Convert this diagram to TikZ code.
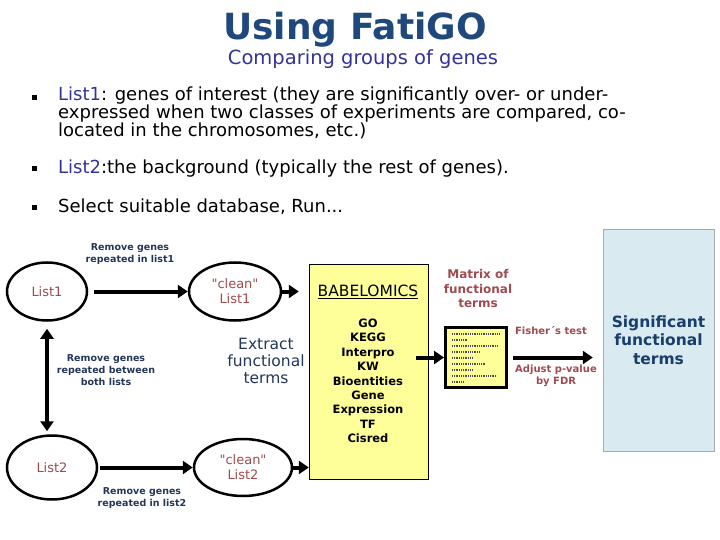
\documentclass[tikz,border=0pt]{standalone}
\usepackage{fontspec}
\setmainfont{DejaVu Sans}
\usetikzlibrary{arrows.meta, shapes.geometric, positioning}

\definecolor{titleblue}{RGB}{31,73,125}
\definecolor{subblue}{RGB}{51,51,153}
\definecolor{noteblue}{RGB}{35,55,90}
\definecolor{listred}{RGB}{160,75,80}
\definecolor{babelyellow}{RGB}{255,255,153}
\definecolor{sigblue}{RGB}{218,234,241}
\definecolor{sigborder}{RGB}{165,170,175}

\begin{document}
\begin{tikzpicture}[
    x=1pt, y=-1pt,
    listnode/.style={ellipse, draw=black, line width=2.5pt, inner sep=0pt,
        text=listred, align=center, font={\fontsize{13}{15}\selectfont}},
    flow/.style={line width=4pt, -{Triangle[length=10pt, width=13pt]}},
    biflow/.style={line width=4pt, {Triangle[length=10pt, width=13pt]}-{Triangle[length=10pt, width=13pt]}},
    note/.style={text=noteblue, align=center, font={\fontsize{9.5}{12}\selectfont\bfseries}},
    redlabel/.style={text=listred, align=center, font={\fontsize{12}{14.5}\selectfont\bfseries}},
    redsmall/.style={text=listred, align=center, font={\fontsize{10}{12}\selectfont\bfseries}},
    bullet/.style={fill=black, minimum size=5pt, inner sep=0pt},
    item/.style={anchor=base west, inner sep=0pt, align=left,
        font={\fontsize{18}{15.5}\selectfont}},
]
\useasboundingbox[fill=white] (0,0) rectangle (720,540);

% =============================================================================
% Title and bullet list
% =============================================================================
\node[text=titleblue, inner sep=0pt, font={\fontsize{36}{40}\selectfont\bfseries}, anchor=base]
    (title) at (355,40) {Using FatiGO};
\node[text=subblue, inner sep=0pt, font={\fontsize{19.5}{22}\selectfont}, anchor=base]
    (subtitle) at (363,65) {Comparing groups of genes};

\node[bullet] (b1) at (34,98) {};
\node[bullet] (b2) at (34,169) {};
\node[bullet] (b3) at (34,208) {};

% multi-line node: base is the last line
\node[item] (item1) at (58,137) {\textcolor{subblue}{List1}: genes of interest (they are significantly over- or under-\\
    expressed when two classes of experiments are compared, co-\\
    located in the chromosomes, etc.)};
\node[item] (item2) at (58,174) {\textcolor{subblue}{List2}:the background (typically the rest of genes).};
\node[item] (item3) at (58,213) {Select suitable database, Run...};

% =============================================================================
% Gene lists
% =============================================================================
\node[listnode, minimum width=80pt, minimum height=58pt] (list1) at (47,291.5) {List1};
\node[listnode, minimum width=92pt, minimum height=58pt] (clean1) at (235,291.5)
    {\textquotedbl clean\textquotedbl\\List1};
\node[listnode, minimum width=90pt, minimum height=64pt] (list2) at (52,467.5) {List2};
\node[listnode, minimum width=98pt, minimum height=57pt] (clean2) at (243,467.5)
    {\textquotedbl clean\textquotedbl\\List2};

\draw[flow, shorten <=6pt] (list1) -- (clean1);
\draw[flow, shorten <=2pt] (list2) -- (clean2);
\draw[biflow, shorten <=7pt, shorten >=3pt] (list1.south) -- (list1.south |- list2.north);

\node[note] (rm1) at (130,254) {Remove genes\\repeated in list1};
\node[note] (rmboth) at (106,370) {Remove genes\\repeated between\\both lists};
\node[note] (rm2) at (142,498) {Remove genes\\repeated in list2};

\node[text=noteblue, align=center, font={\fontsize{15.5}{17}\selectfont}]
    (extract) at (266,361) {Extract\\functional\\terms};

% =============================================================================
% Databases
% =============================================================================
\node[draw=black, fill=babelyellow, minimum width=119pt, minimum height=215pt]
    (babel) at (368.5,371.5) {};
\node[font={\fontsize{15.5}{17}\selectfont}] (babeltitle) at (368,292) {\underline{BABELOMICS}};
\node[align=center, font={\fontsize{11.5}{14.4}\selectfont\bfseries}] (dblist) at (368,381)
    {GO\\KEGG\\Interpro\\KW\\Bioentities\\Gene\\Expression\\TF\\Cisred};

\draw[flow, shorten >=10pt] (clean1.east) -- (clean1.east -| babel.west);
\draw[flow] (clean2.east) -- (clean2.east -| babel.west);

% =============================================================================
% Matrix of terms and test
% =============================================================================
\node[draw=black, line width=3pt, fill=babelyellow, minimum width=61pt, minimum height=60pt]
    (termmat) at (476,357.5) {};
\foreach \y/\len in {8/47, 14/16, 20/46, 26/28, 32/20, 38/34, 44/20, 50/45, 56/12} {
    \draw[black!70, line width=1.3pt, dash pattern=on 1pt off 0.8pt]
        ([shift={(8,\y)}]termmat.north west) -- ++(\len,0);
}
\node[redlabel] (matlabel) at (478,289) {Matrix of\\functional\\terms};

\draw[flow] ([xshift=-12pt]babel.east |- termmat.west) -- (termmat.west);

\node[draw=sigborder, fill=sigblue, minimum width=111pt, minimum height=222pt,
    text=titleblue!85!black, align=center, font={\fontsize{15.5}{18.5}\selectfont\bfseries}]
    (sig) at (658.5,340) {Significant\\functional\\terms};

\draw[flow, shorten <=5pt, shorten >=10pt] (termmat.east) -- (termmat.east -| sig.west);

\node[redsmall] (fisher) at (551,331) {Fisher´s test};
\node[redsmall] (fdr) at (556,376) {Adjust p-value\\by FDR};

\end{tikzpicture}
\end{document}
